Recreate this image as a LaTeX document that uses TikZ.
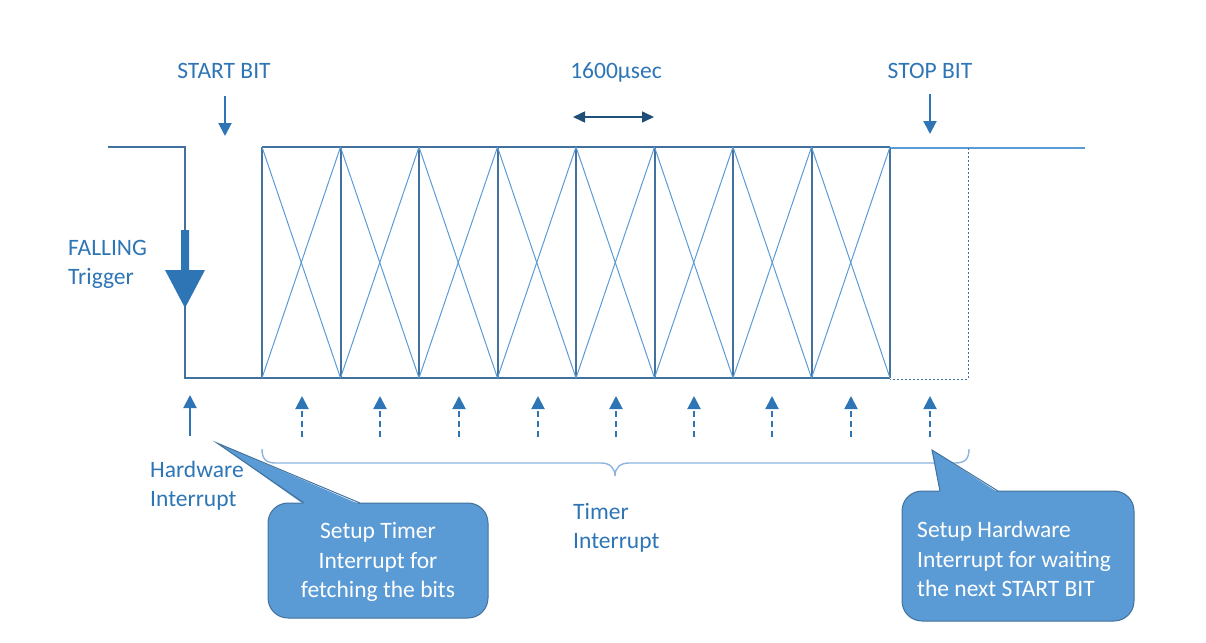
\documentclass[tikz,border=0pt]{standalone}
\usepackage{fontspec}
\setmainfont{Carlito}
\usetikzlibrary{arrows.meta}
\definecolor{txtblue}{HTML}{2E75B6}
\definecolor{sigblue}{HTML}{41719C}
\definecolor{litblue}{HTML}{5B9BD5}
\definecolor{dkblue}{HTML}{1F4E79}
\definecolor{brblue}{HTML}{8EB4DE}
\begin{document}
\begin{tikzpicture}[x=1pt,y=-1pt,
  lbl/.style={text=txtblue,font=\fontsize{23.5}{29}\selectfont,inner sep=0pt},
  calltxt/.style={text=white,font=\fontsize{23.5}{29.5}\selectfont,inner sep=0pt},
  sig/.style={draw=sigblue,line width=2pt},
  xline/.style={draw=litblue,line width=1pt},
  downarr/.style={draw=txtblue,line width=2pt,-{Triangle[width=13pt,length=13pt]}},
  uparr/.style={draw=txtblue,line width=2pt,-{Triangle[width=13pt,length=13pt]}},
  dash up/.style={uparr,dash pattern=on 6pt off 4pt},
  callbox/.style={fill=litblue,draw=sigblue,line width=1pt,rounded corners=20pt}
]
\useasboundingbox (0,0) rectangle (1206,642);

% signal waveform
\coordinate (s0) at (108,147);
\coordinate (s1) at (185,147);
\coordinate (s2) at (185,378);
\draw[sig] (s0) -- (s1) -- (s2) -- (890,378);
\draw[sig] (262,147) -- (890,147);
\draw[draw=litblue,line width=2pt] (890,148) -- (1085,148);
\foreach \i in {0,...,8}{
  \coordinate (t\i) at ({262+78.5*\i},147);
  \coordinate (b\i) at ({262+78.5*\i},378);
  \draw[sig] (t\i) -- (b\i);
}
\foreach \i [evaluate=\i as \j using int(\i+1)] in {0,...,7}{
  \draw[xline] (t\i) -- (b\j);
  \draw[xline] (t\j) -- (b\i);
}
% dotted stop-bit box
\coordinate (d1) at (968,148);
\coordinate (d2) at (968,379);
\coordinate (d3) at (890,379);
\draw[draw=sigblue,line width=1pt,dash pattern=on 2pt off 2pt] (d1) -- (d2) -- (d3);

% falling trigger block arrow
\fill[txtblue] (181,230) -- (189,230) -- (189,270) -- (205,270) -- (185,308) -- (165,270) -- (181,270) -- cycle;
\node[lbl,align=left,anchor=west] (fall) at (68,264) {FALLING\\Trigger};

% top labels
\node[lbl] (start) at (224,71) {START BIT};
\coordinate (sa1) at (225,96);
\coordinate (sa2) at (225,136);
\draw[downarr] (sa1) -- (sa2);

\node[lbl] (dur) at (616,72) {1600µsec};
\coordinate (da1) at (573,117);
\coordinate (da2) at (654,117);
\draw[draw=dkblue,line width=1.6pt,{Triangle[width=11pt,length=12pt]}-{Triangle[width=11pt,length=12pt]}] (da1) -- (da2);

\node[lbl] (stop) at (930,71) {STOP BIT};
\coordinate (pa1) at (930,94);
\coordinate (pa2) at (930,134);
\draw[downarr] (pa1) -- (pa2);

% interrupt arrows
\coordinate (h1) at (190,436);
\coordinate (h2) at (190,395);
\draw[uparr] (h1) -- (h2);
\foreach \x [count=\k] in {302,380,459,538,616,694,772,851,930}{
  \coordinate (u\k a) at (\x,437);
  \coordinate (u\k b) at (\x,396);
  \draw[dash up] (u\k a) -- (u\k b);
}

% brace
\draw[draw=brblue,line width=1.4pt] (262,449) .. controls (262,459) and (266,463) .. (276,463) -- (601,463)
  .. controls (610,463) and (615,468) .. (615,476)
  .. controls (615,468) and (620,463) .. (629,463) -- (955,463)
  .. controls (965,463) and (969,459) .. (969,449);

\node[lbl,align=left,anchor=west] (hw) at (150,486) {Hardware\\Interrupt};
\node[lbl,align=left,anchor=west] (tm) at (573,528) {Timer\\Interrupt};

% callout 1
\path[callbox] (268,503) rectangle (488,618);
\fill[litblue] (217,443) -- (304,504.5) -- (360,504.5) -- cycle;
\draw[draw=sigblue,line width=1pt] (304,503) -- (217,443) -- (360,503);
\node[calltxt,align=center] (c1) at (378,562) {Setup Timer\\Interrupt for\\fetching the bits};

% callout 2
\path[callbox] (902,491) rectangle (1134,621);
\fill[litblue] (932,450) -- (940,492.5) -- (998,492.5) -- cycle;
\draw[draw=sigblue,line width=1pt] (940,491) -- (932,450) -- (998,491);
\node[calltxt,align=left,anchor=west] (c2) at (917,559) {Setup Hardware\\Interrupt for waiting\\the next START BIT};
\end{tikzpicture}
\end{document}
